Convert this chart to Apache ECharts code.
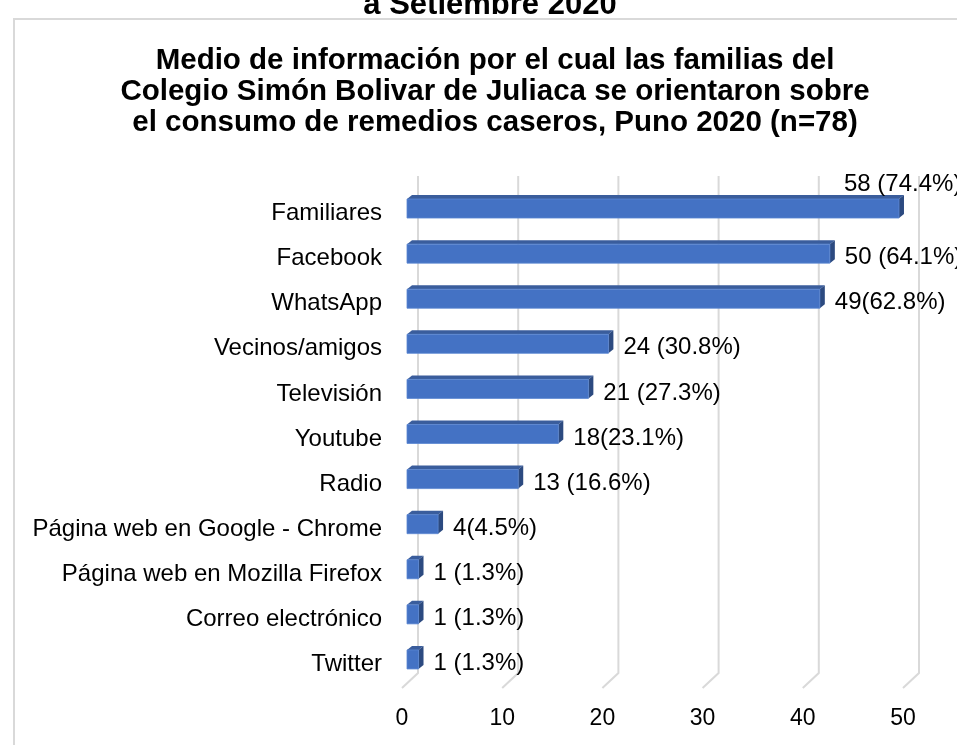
<!DOCTYPE html>
<html>
<head>
<meta charset="utf-8">
<script src="https://cdn.jsdelivr.net/npm/echarts@6/dist/echarts.min.js"></script>
<style>
html,body{margin:0;padding:0;background:#fff;}
#chart{width:957px;height:745px;}
</style>
</head>
<body>
<div id="chart"></div>
<script>
const categories = ['Familiares','Facebook','WhatsApp','Vecinos/amigos','Televisión','Youtube','Radio','Página web en Google - Chrome','Página web en Mozilla Firefox','Correo electrónico','Twitter'];
const barValues = [49.1, 42.2, 41.2, 20.1, 18.1, 15.1, 11.1, 3.1, 1.15, 1.15, 1.15];
const barLabels = ['58 (74.4%)','50 (64.1%)','49(62.8%)','24 (30.8%)','21 (27.3%)','18(23.1%)','13 (16.6%)','4(4.5%)','1 (1.3%)','1 (1.3%)','1 (1.3%)'];
const xTicks = [0, 10, 20, 30, 40, 50];
const topTitle = 'a Setiembre 2020';
const mainTitle = 'Medio de información por el cual las familias del\nColegio Simón Bolivar de Juliaca se orientaron sobre\nel consumo de remedios caseros, Puno 2020 (n=78)';

const FONT = '"Liberation Sans", Arial, sans-serif';
const chart = echarts.init(document.getElementById('chart'), null, {renderer: 'canvas'});

const DEPTH = 5, DX = 5, DY = 4, HALF = 9.5;

function renderBar(params, api) {
  const v = api.value(0);
  const i = api.value(1);
  const p0 = api.coord([0, i]);
  const p1 = api.coord([v, i]);
  const xa = p0[0] + DEPTH, xb = p1[0] + DEPTH;
  const yc = p0[1] - DEPTH;
  const yt = yc - HALF, yb = yc + HALF;
  let lx = xb + 15, ly = yc + 4;
  if (params.dataIndex === 0) { lx = xb - 55; ly = yc - 24; }
  return {
    type: 'group',
    children: [
      {type: 'polygon', shape: {points: [[xa, yt], [xb, yt], [xb + DX, yt - DY], [xa + DX, yt - DY]]},
       style: {fill: '#3A5D9C'}},
      {type: 'polygon', shape: {points: [[xb, yt], [xb + DX, yt - DY], [xb + DX, yb - DY], [xb, yb]]},
       style: {fill: '#2C4A80'}},
      {type: 'rect', shape: {x: xa, y: yt, width: xb - xa, height: yb - yt},
       style: {fill: '#4472C4', stroke: '#5B86D2', lineWidth: 0.8}},
      {type: 'text', style: {text: barLabels[params.dataIndex], x: lx, y: ly, fill: '#000',
        font: '24px ' + FONT, align: 'left', verticalAlign: 'middle'}}
    ]
  };
}

function renderGrid(params, api) {
  const v = api.value(0);
  const top = api.coord([v, 1]);
  const bot = api.coord([v, 0]);
  return {
    type: 'polyline',
    shape: {points: [top, bot, [bot[0] - 16, bot[1] + 15]]},
    style: {stroke: '#D9D9D9', lineWidth: 2, fill: null}
  };
}

const option = {
  backgroundColor: '#fff',
  animation: false,
  textStyle: {fontFamily: FONT},
  title: [
    {text: topTitle, left: 485, top: -15, textAlign: 'center',
     textStyle: {fontSize: 31, fontWeight: 'bold', color: '#000', lineHeight: 31, fontFamily: FONT}},
    {text: mainTitle, left: 490, top: 40, textAlign: 'center',
     textStyle: {fontSize: 29.5, fontWeight: 'bold', color: '#000', lineHeight: 31, fontFamily: FONT}}
  ],
  graphic: [
    {type: 'rect', shape: {x: 14, y: 19, width: 1000, height: 800}, silent: true, z: -10,
     style: {fill: 'none', stroke: '#D9D9D9', lineWidth: 2}}
  ],
  grid: [
    {left: 402, width: 501, top: 191, height: 496},
    {left: 418, width: 501, top: 176, height: 497}
  ],
  xAxis: [
    {type: 'value', gridIndex: 0, min: 0, max: 50, interval: 10,
     axisLine: {show: false}, axisTick: {show: false}, splitLine: {show: false},
     axisLabel: {fontSize: 23, color: '#000', margin: 20, fontFamily: FONT}},
    {type: 'value', gridIndex: 1, min: 0, max: 50, interval: 10, show: false}
  ],
  yAxis: [
    {type: 'category', gridIndex: 0, data: categories, inverse: true,
     axisLine: {show: false}, axisTick: {show: false}, splitLine: {show: false},
     axisLabel: {fontSize: 24, color: '#000', margin: 20, fontFamily: FONT}},
    {type: 'value', gridIndex: 1, min: 0, max: 1, show: false}
  ],
  series: [
    {type: 'custom', xAxisIndex: 1, yAxisIndex: 1, z: 1, silent: true,
     renderItem: renderGrid, data: xTicks.map(t => [t])},
    {type: 'custom', xAxisIndex: 0, yAxisIndex: 0, z: 2, silent: true,
     renderItem: renderBar, data: barValues.map((v, i) => [v, i])}
  ]
};
chart.setOption(option);
</script>
</body>
</html>
